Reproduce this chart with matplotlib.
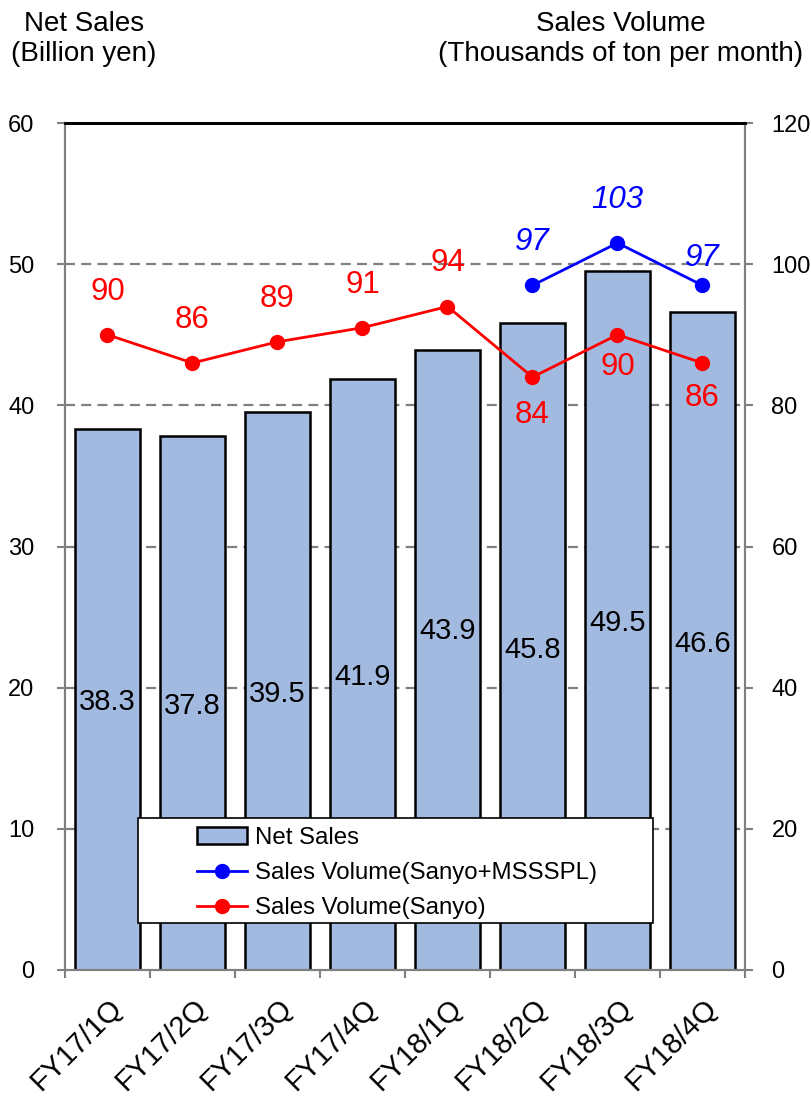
import numpy as np
import matplotlib
matplotlib.use("Agg")
from matplotlib import pyplot as plt
from matplotlib.patches import Rectangle

plt.rcParams['font.family'] = ['Liberation Sans', 'DejaVu Sans']

quarters = ['FY17/1Q', 'FY17/2Q', 'FY17/3Q', 'FY17/4Q',
            'FY18/1Q', 'FY18/2Q', 'FY18/3Q', 'FY18/4Q']
net_sales = [38.3, 37.8, 39.5, 41.9, 43.9, 45.8, 49.5, 46.6]
vol_sanyo = [90, 86, 89, 91, 94, 84, 90, 86]
vol_total = [np.nan, np.nan, np.nan, np.nan, np.nan, 97, 103, 97]

GRAY = '#808080'
BAR = '#A3BAE0'

W, H = 812, 1097
fig = plt.figure(figsize=(W / 100, H / 100), dpi=100)
ax = fig.add_axes([65 / W, 1 - 970 / H, 680 / W, 847 / H])
ax2 = ax.twinx()

x = np.arange(len(quarters))

# grid behind bars
for v in [10, 20, 30, 40, 50]:
    ax.axhline(v, color=GRAY, lw=1.6, ls=(0, (4.5, 2.8)), zorder=0)

bars = ax.bar(x, net_sales, width=0.765, color=BAR, edgecolor='black',
              linewidth=1.8, zorder=2, label='Net Sales')

# bar value labels (43.9 sits higher in the original)
bar_shift = [0, 0, 0, 0, 23, 0, 0, 0]
for xi, v, s in zip(x, net_sales, bar_shift):
    ax.annotate(f'{v:.1f}', (xi, v / 2), xytext=(0, s - 2), textcoords='offset points',
                ha='center', va='center', fontsize=21, zorder=5)

ax.set_xlim(-0.5, 7.5)
ax.set_ylim(0, 60)
ax.set_yticks(range(0, 61, 10))
ax2.set_ylim(0, 120)
ax2.set_yticks(range(0, 121, 20))

l1, = ax2.plot(x, vol_total, color='#0000FF', lw=2, marker='o', ms=10,
               label='Sales Volume(Sanyo+MSSSPL)')
l2, = ax2.plot(x, vol_sanyo, color='#FF0000', lw=2, marker='o', ms=10,
               label='Sales Volume(Sanyo)')

red_off = [31, 31, 31, 31, 31, -27, -23, -25]
for xi, v, o in zip(x, vol_sanyo, red_off):
    ax2.annotate(str(v), (xi, v), xytext=(0, o), textcoords='offset points',
                 ha='center', va='center', fontsize=22.5, color='#FF0000')

blue_off = [0, 0, 0, 0, 0, 31, 31, 20]
for xi, v, o in zip(x, vol_total, blue_off):
    if np.isnan(v):
        continue
    ax2.annotate(str(int(v)), (xi, v), xytext=(0, o), textcoords='offset points',
                 ha='center', va='center', fontsize=22.5, color='#0000FF',
                 style='italic')

# spines / ticks
for a in (ax, ax2):
    a.spines['top'].set_color('black')
    a.spines['top'].set_linewidth(2)
    for s in ('left', 'right', 'bottom'):
        a.spines[s].set_color(GRAY)
        a.spines[s].set_linewidth(1.5)

ax.tick_params(axis='y', colors=GRAY, labelcolor='black', labelsize=17,
               length=6, width=1.5, pad=16)
ax2.tick_params(axis='y', colors=GRAY, labelcolor='black', labelsize=17,
                length=6, width=1.5, pad=13)

ax.set_xticks(x)
ax.set_xticklabels(quarters, rotation=45, ha='right', va='top',
                   rotation_mode='anchor', fontsize=21)
ax.tick_params(axis='x', which='major', length=0, pad=17)
ax.set_xticks(np.arange(-0.5, 8, 1), minor=True)
ax.tick_params(axis='x', which='minor', colors=GRAY, length=6, width=1.5)

# titles
fig.text(84 / W, 1 - 39 / H, 'Net Sales\n(Billion yen)', ha='center', va='center',
         fontsize=20, linespacing=1.24)
fig.text(621 / W, 1 - 39 / H, 'Sales Volume\n(Thousands of ton per month)',
         ha='center', va='center', fontsize=20, linespacing=1.24)

# legend box
fig.patches.append(Rectangle((138 / W, 1 - 923 / H), 515 / W, 105 / H,
                             transform=fig.transFigure, facecolor='white',
                             edgecolor='black', linewidth=1.2, zorder=3))
fig.legend([bars, l1, l2], [bars.get_label(), l1.get_label(), l2.get_label()],
           loc='upper left', bbox_to_anchor=(197 / W, 1 - 827 / H),
           frameon=False, fontsize=17.3, borderpad=0, borderaxespad=0,
           handlelength=2.1, handletextpad=0.3, labelspacing=0.55)

fig.savefig('out.png', dpi=100)
